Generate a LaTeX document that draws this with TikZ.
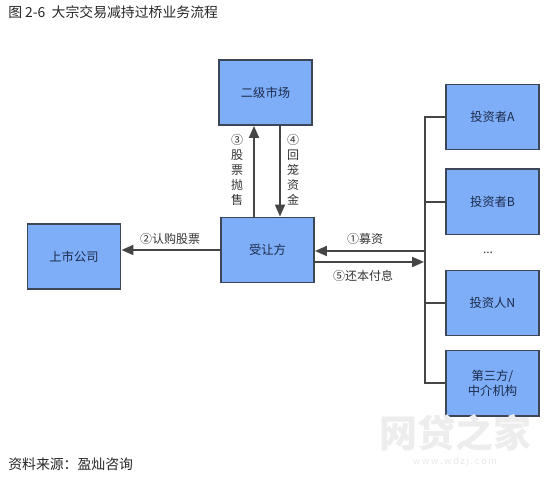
\documentclass[tikz,border=0pt]{standalone}
\usepackage{fontspec}
\setmainfont{Noto Sans CJK SC}
\usetikzlibrary{arrows.meta,positioning}
\definecolor{boxblue}{HTML}{7EAEF8}
\definecolor{boxline}{HTML}{3C4657}
\definecolor{boxtext}{HTML}{1C2A4A}
\definecolor{linegray}{HTML}{454545}
\definecolor{labelgray}{HTML}{333333}

\begin{document}
\begin{tikzpicture}[
    x=0.75pt,y=-0.75pt,
    node distance=13.5pt,
    box/.style={draw=boxline,line width=1.2pt,fill=boxblue,text=boxtext,minimum width=70pt,minimum height=49pt,align=center,font=\fontsize{9.2}{11.5}\selectfont,inner sep=0pt},
    arrow/.style={draw=linegray,line width=1.5pt,-{Triangle[length=9pt,width=7.5pt]}},
    bus/.style={draw=linegray,line width=1.5pt},
    lbl/.style={text=labelgray,font=\fontsize{9}{11.25}\selectfont,align=center,inner sep=0pt},
    note/.style={text=black!85,font=\fontsize{10.4}{12}\selectfont,anchor=west,inner sep=0pt}
]
    \useasboundingbox (0,0) rectangle (550,477);

    \node[note] (title) at (8,12) {图 2-6\ \ 大宗交易减持过桥业务流程};
    \node[note] (source) at (8,464) {资料来源：盈灿咨询};

    \node[box] (market) at (265.5,92.5) {二级市场};
    \node[box] (buyer) at (267.5,250) {受让方};
    \node[box] (listed) at (74,256.5) {上市公司};

    \node[box] (invA) at (492.5,117) {投资者A};
    \node[box,below=of invA] (invB) {投资者B};
    \node[box] (invN) at (492.5,303) {投资人N};
    \node[box,below=10pt of invN] (third) {第三方/\\中介机构};
    \node[lbl] (dots) at (488,253) {...};

    % bus on the right
    \coordinate (busA) at (425,117);
    \coordinate (busIn) at (425,251);
    \coordinate (busOut) at (424,262);
    \draw[bus] (invA.west) -- (busA) -- (third.west -| busA) -- (third.west);
    \draw[bus] (invB.west) -- (invB.west -| busA);
    \draw[bus] (invN.west) -- (invN.west -| busA);

    \draw[arrow] (buyer.west) -- (buyer.west -| listed.east);
    \draw[arrow] (busIn) -- (busIn -| buyer.east);
    \draw[arrow] (busOut -| buyer.east) -- (busOut);
    \coordinate (sellX) at (254,218);
    \coordinate (backX) at (280,125);
    \draw[arrow] (sellX |- buyer.north) -- (sellX |- market.south);
    \draw[arrow] (backX |- market.south) -- (backX |- buyer.north);

    \node[lbl] (lb1) at (365,239) {①募资};
    \node[lbl] (lb2) at (170,239) {②认购股票};
    \node[lbl] (lb3) at (237,170) {③\\股\\票\\抛\\售};
    \node[lbl] (lb4) at (293,170) {④\\回\\笼\\资\\金};
    \node[lbl] (lb5) at (363,276) {⑤还本付息};

    % site mark
    \node[text=black!7,font=\fontsize{28.5}{28.5}\selectfont\bfseries,inner sep=0pt] (mark) at (455,433) {网贷之家};
    \node[text=black!9,font=\fontsize{7}{7}\selectfont,inner sep=0pt] (site) at (455,462) {w\,w\,w\,.\,w\,d\,z\,j\,.\,c\,o\,m};
\end{tikzpicture}
\end{document}
